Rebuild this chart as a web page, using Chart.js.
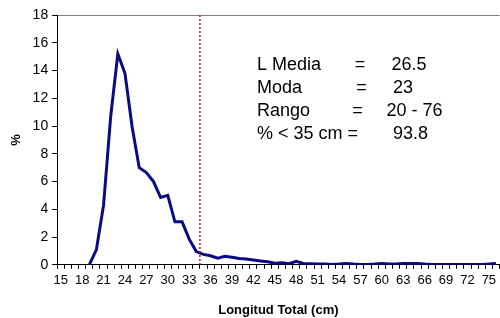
<!DOCTYPE html>
<html>
<head>
<meta charset="utf-8">
<script src="https://cdn.jsdelivr.net/npm/chart.js@4.4.0/dist/chart.umd.min.js"></script>
<style>
  html, body { margin: 0; padding: 0; background: #fff; overflow: hidden; }
  #wrap { width: 500px; height: 318px; }
</style>
</head>
<body>
<div id="wrap"><canvas id="talla"></canvas></div>
<script>
// longitud total (cm), 15..76
var lengths = [];
for (var l = 15; l <= 76; l++) lengths.push(l);

var pct = [null, null, null, null, 0, 1.1, 4.3, 10.7, 15.2, 13.8,
           9.95, 7.0, 6.65, 6.0, 4.85, 5.0, 3.1, 3.1, 1.85, 0.95,
           0.75, 0.65, 0.48, 0.62, 0.55, 0.45, 0.42, 0.35, 0.28, 0.22,
           0.12, 0.15, 0.08, 0.25, 0.1, 0.08, 0.05, 0.05, 0.03, 0.05,
           0.1, 0.05, 0.03, 0.03, 0.05, 0.1, 0.05, 0.05, 0.1, 0.1,
           0.1, 0.05, 0.03, 0.03, 0.03, 0.03, 0.03, 0.03, 0.03, 0.03,
           0.05, 0.1];

var yTicks = [0, 2, 4, 6, 8, 10, 12, 14, 16, 18];
var cutoff = 35;

var statLabels = ["L Media", "Moda", "Rango", "% < 35 cm ="];
var statEq = ["=", "=", "=", ""];
var statValues = ["26.5", "23", "20 - 76", "93.8"];

const FONT = "'Liberation Sans', Arial, sans-serif";

// red dotted line at the 35 cm limit + summary text
const extras = {
  id: "extras",
  afterDatasetsDraw(chart) {
    const ctx = chart.ctx, xs = chart.scales.x, a = chart.chartArea;
    const i = lengths.indexOf(cutoff);
    const x = (xs.getPixelForValue(i - 1) + xs.getPixelForValue(i)) / 2;
    ctx.save();
    ctx.strokeStyle = "#ff0000";
    ctx.lineWidth = 1.5;
    ctx.setLineDash([2, 2]);
    ctx.beginPath();
    ctx.moveTo(x, a.top);
    ctx.lineTo(x, a.bottom);
    ctx.stroke();
    ctx.setLineDash([]);

    ctx.fillStyle = "#000";
    ctx.font = "18px " + FONT;
    ctx.textBaseline = "alphabetic";
    const eqX = [360, 361.5, 357.5, 0];
    const valX = [391.5, 393, 386.5, 393];
    for (let r = 0; r < statLabels.length; r++) {
      const y = 70 + r * 23.1;
      ctx.textAlign = "left";
      ctx.fillText(statLabels[r], 257, y);
      if (statEq[r]) {
        ctx.textAlign = "center";
        ctx.fillText(statEq[r], eqX[r], y);
      }
      ctx.textAlign = "left";
      ctx.fillText(statValues[r], valX[r], y);
    }
    ctx.restore();
  }
};

var chart = new Chart("talla", {
  type: "line",
  data: {
    labels: lengths.map(String),
    datasets: [{
      data: pct,
      borderColor: "#0a0a82",
      borderWidth: 3,
      pointRadius: 0,
      tension: 0,
      fill: false,
      spanGaps: false
    }]
  },
  options: {
    responsive: true,
    maintainAspectRatio: false,
    animation: false,
    layout: { padding: { top: 15, right: 0, left: 9, bottom: 0 } },
    plugins: { legend: { display: false }, tooltip: { enabled: false } },
    scales: {
      x: {
        offset: true,
        border: { color: "#000", width: 1 },
        grid: { offset: true, drawOnChartArea: false, tickLength: 4, tickColor: "#000" },
        ticks: {
          autoSkip: false, maxRotation: 0, minRotation: 0, padding: 4,
          color: "#000", font: { family: FONT, size: 13 },
          callback: function (v) { return (lengths[v] - 15) % 3 === 0 ? String(lengths[v]) : ""; }
        },
        title: {
          display: true, text: "Longitud Total (cm)", color: "#000",
          font: { family: FONT, size: 13, weight: "bold" }, padding: { top: 10, bottom: 0 }
        }
      },
      y: {
        min: 0, max: 18,
        afterBuildTicks: function (s) { s.ticks = yTicks.map(function (v) { return { value: v }; }); },
        border: { color: "#000", width: 1 },
        grid: {
          tickLength: 5, tickColor: "#000",
          color: function (c) { return c.tick && c.tick.value === 18 ? "#808080" : "rgba(0,0,0,0)"; }
        },
        ticks: { color: "#000", padding: 4, font: { family: FONT, size: 14 } },
        title: {
          display: true, text: "%", color: "#000",
          font: { family: FONT, size: 13, weight: "bold" }, padding: { top: 0, bottom: 4 }
        }
      }
    }
  },
  plugins: [extras]
});
</script>
</body>
</html>
